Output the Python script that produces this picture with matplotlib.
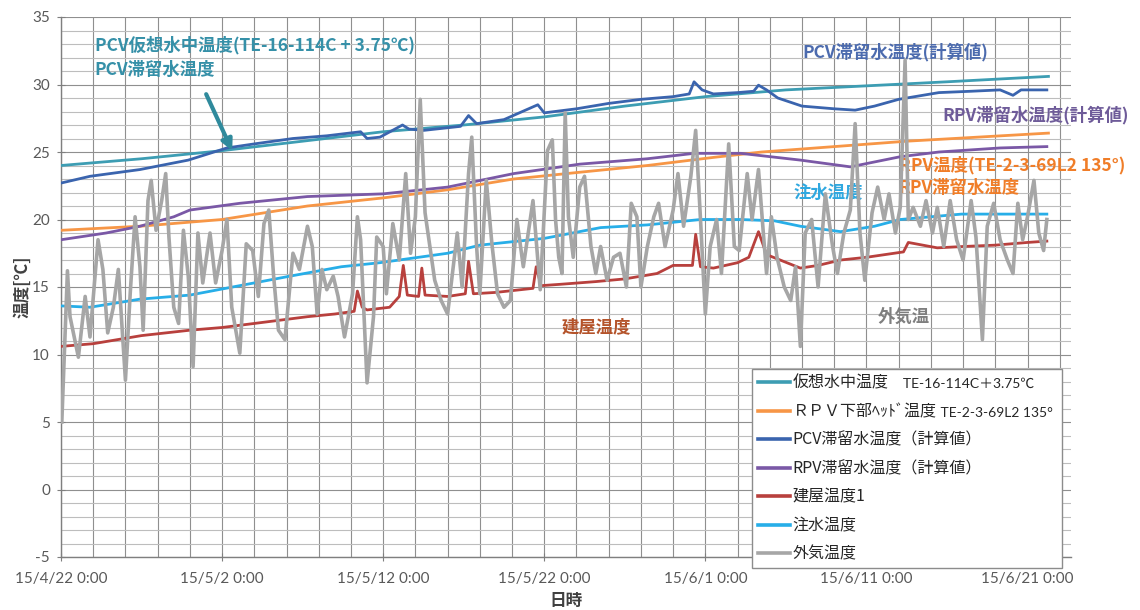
import datetime as dt

import matplotlib
matplotlib.use("Agg")
import matplotlib.pyplot as plt
import matplotlib.dates as mdates
import numpy as np
from matplotlib.ticker import FixedLocator, FuncFormatter, MultipleLocator
from matplotlib.transforms import IdentityTransform

plt.rcParams['font.family'] = ['Noto Sans CJK JP', 'DejaVu Sans']
plt.rcParams['axes.unicode_minus'] = False

START = dt.datetime(2015, 4, 22)

# ---- series: day offset from 2015/4/22 0:00, temperature [°C] ----
virtual_day = [0, 5, 10, 15, 20, 25, 30, 35, 40, 45, 50, 55, 61.3]
virtual_temp = [24.0, 24.5, 25.1, 25.8, 26.5, 27.0, 27.6, 28.4, 29.1, 29.6, 29.9, 30.2, 30.6]

rpv_head_day = [0, 4.9, 10, 15.3, 20, 24, 28.1, 32.2, 36.4, 40.5, 43.5, 52.5, 61.3]
rpv_head_temp = [19.2, 19.5, 20.0, 21.0, 21.6, 22.2, 23.0, 23.5, 24.0, 24.6, 25.0, 25.8, 26.4]

pcv_calc_day = [0, 1.8, 4.9, 7.9, 10.3, 12, 14.4, 16.5, 18.6, 19.0, 19.8, 21.2, 21.6,
                22.5, 24.8, 25.3, 25.8, 27.5, 29.6, 30.0, 32, 34, 36, 38, 39.0, 39.3,
                39.8, 40.5, 42, 43.0, 43.3, 43.8, 44.5, 46, 48, 49.3, 50.5, 52, 54.5,
                56.5, 58.3, 59.1, 59.6, 61.2]
pcv_calc_temp = [22.7, 23.2, 23.7, 24.4, 25.3, 25.6, 26.0, 26.2, 26.5, 26.0, 26.1, 27.0, 26.7,
                 26.6, 26.9, 27.7, 27.1, 27.4, 28.5, 27.9, 28.2, 28.6, 28.9, 29.1, 29.3, 30.2,
                 29.6, 29.3, 29.4, 29.5, 29.95, 29.6, 29.0, 28.4, 28.2, 28.1, 28.4, 28.9, 29.4,
                 29.5, 29.6, 29.2, 29.6, 29.6]

rpv_calc_day = [0, 2.8, 4.9, 7.0, 8.0, 11.1, 15.3, 20.0, 24.0, 28.1, 32.2, 36.4, 39.3,
                42.2, 45.9, 49.0, 52.1, 54.5, 58.3, 61.2]
rpv_calc_temp = [18.5, 19.0, 19.5, 20.2, 20.7, 21.2, 21.7, 21.9, 22.4, 23.4, 24.1, 24.5, 24.9,
                 24.9, 24.4, 23.9, 24.65, 25.0, 25.3, 25.4]

building_day = [0, 2, 5, 8, 10, 12, 15.3, 17, 18.2, 18.4, 18.7, 19.0, 20.4, 21.0, 21.25,
                21.5, 22.2, 22.4, 22.6, 24.0, 25.1, 25.3, 25.6, 27, 29.3, 29.5, 29.8, 31,
                33.2, 35, 37, 38, 39.2, 39.4, 39.7, 40.5, 42, 42.7, 43.3, 43.8, 45.9, 47,
                48.4, 50, 52.3, 52.6, 54.4, 56, 58, 60, 61.2]
building_temp = [10.6, 10.8, 11.4, 11.8, 12.0, 12.3, 12.8, 13.0, 13.2, 14.7, 13.5, 13.3, 13.5,
                 14.3, 16.6, 14.4, 14.3, 16.4, 14.4, 14.3, 14.5, 16.9, 14.5, 14.6, 14.9, 16.5,
                 15.1, 15.2, 15.4, 15.6, 16.0, 16.6, 16.6, 18.9, 16.5, 16.4, 16.8, 17.2, 19.1,
                 17.4, 16.4, 16.6, 17.0, 17.2, 17.6, 18.3, 17.9, 18.0, 18.1, 18.3, 18.4]

injection_day = [0, 1.8, 4.9, 8.0, 11.1, 14.2, 17.4, 19.8, 24.0, 26.0, 30.0, 33.5, 36.4,
                 39.7, 42.2, 44.3, 45.9, 48.4, 50.5, 52.1, 55.9, 61.2]
injection_temp = [13.6, 13.5, 14.1, 14.4, 15.1, 15.8, 16.5, 16.8, 17.5, 18.1, 18.6, 19.4, 19.6,
                  20.0, 20.0, 19.9, 19.5, 19.1, 19.5, 20.0, 20.4, 20.4]

outdoor_day = [0.05, 0.4, 0.56, 1.08, 1.5, 1.8, 2.3, 2.6, 2.9, 3.25, 3.56, 4.0, 4.3, 4.6,
               4.9, 5.1, 5.4, 5.6, 5.9, 6.25, 6.5, 6.7, 7.0, 7.3, 7.6, 7.9, 8.2, 8.5, 8.8,
               9.25, 9.6, 10.0, 10.3, 10.6, 11.1, 11.5, 11.9, 12.25, 12.6, 12.9, 13.2, 13.5,
               13.9, 14.4, 14.8, 15.3, 15.6, 15.9, 16.2, 16.5, 16.9, 17.2, 17.6, 18.1, 18.4,
               18.6, 19.0, 19.4, 19.6, 20.0, 20.2, 20.6, 21.0, 21.4, 21.7, 22.0, 22.3, 22.6,
               22.9, 23.2, 23.6, 24.0, 24.3, 24.6, 24.9, 25.3, 25.5, 25.8, 26.0, 26.4, 26.75,
               27.1, 27.5, 27.9, 28.3, 28.7, 29.3, 29.75, 30.2, 30.5, 30.7, 30.9, 31.1, 31.3,
               31.5, 31.8, 32.2, 32.5, 32.9, 33.2, 33.5, 33.9, 34.3, 34.7, 35.1, 35.4, 35.75,
               36.0, 36.4, 36.8, 37.1, 37.5, 38.0, 38.3, 38.65, 39.1, 39.4, 39.7, 40.0, 40.3,
               40.7, 41.0, 41.45, 41.8, 42.1, 42.6, 42.9, 43.3, 43.6, 43.8, 44.1, 44.45, 44.9,
               45.3, 45.6, 45.9, 46.2, 46.6, 47.0, 47.45, 47.9, 48.2, 48.6, 49.0, 49.3, 49.6,
               49.9, 50.35, 50.7, 51.1, 51.4, 51.8, 52.1, 52.4, 52.6, 52.9, 53.35, 53.7, 54.1,
               54.4, 54.8, 55.2, 55.6, 56.0, 56.5, 56.8, 57.2, 57.5, 57.9, 58.3, 58.75, 59.1,
               59.4, 59.7, 60.0, 60.4, 60.7, 61.0, 61.2]
outdoor_temp = [5.0, 16.2, 12.8, 9.8, 14.3, 11.3, 18.5, 16.3, 11.6, 13.5, 16.3, 8.1, 14.6, 20.2,
                16.5, 11.8, 21.4, 22.9, 19.2, 21.4, 23.4, 18.7, 13.5, 12.3, 19.2, 15.8, 9.1, 19.0,
                15.3, 19.0, 15.3, 17.7, 20.0, 13.5, 10.1, 18.2, 17.7, 14.3, 19.7, 20.7, 15.8, 11.8,
                11.1, 17.5, 16.3, 19.5, 18.0, 13.0, 16.3, 14.8, 15.8, 14.3, 11.3, 14.5, 20.2,
                18.5, 7.9, 12.8, 18.7, 18.0, 14.5, 19.7, 17.0, 23.4, 17.5, 20.2, 28.9, 20.5,
                18.0, 15.5, 14.0, 13.0, 16.0, 19.0, 15.0, 23.4, 26.1, 18.0, 14.5, 22.9, 18.2,
                14.5, 13.5, 14.0, 20.0, 16.5, 21.4, 14.8, 25.1, 25.9, 20.0, 17.2, 16.0, 27.9,
                20.2, 17.2, 22.4, 23.2, 18.0, 16.0, 18.0, 15.5, 17.2, 17.5, 15.0, 21.2, 20.2,
                15.0, 18.0, 20.2, 21.2, 18.0, 20.7, 23.4, 19.5, 23.2, 26.6, 20.0, 13.0, 18.0,
                20.0, 16.0, 25.6, 18.0, 17.7, 23.4, 20.0, 23.7, 19.0, 16.0, 20.2, 17.2, 15.0,
                14.0, 16.5, 10.6, 19.0, 20.0, 15.0, 21.9, 18.0, 16.0, 19.0, 20.7, 27.1, 19.0,
                15.5, 20.5, 22.4, 20.0, 21.9, 19.0, 20.9, 31.8, 20.0, 20.9, 19.5, 21.4, 19.0,
                20.9, 18.0, 21.4, 18.5, 17.0, 21.4, 18.7, 11.1, 19.5, 21.2, 18.5, 17.0, 16.0,
                21.2, 18.5, 20.2, 22.9, 19.0, 17.7, 20.0]

# legend entries: main label and the smaller sensor-id suffix
legend_main = ["仮想水中温度", "ＲＰＶ下部ﾍｯﾄﾞ温度", "PCV滞留水温度（計算値）",
               "RPV滞留水温度（計算値）", "建屋温度1", "注水温度", "外気温度"]
legend_suffix = ["　TE-16-114C＋3.75℃", " TE-2-3-69L2 135°", "", "", "", "", ""]

series = [
    (virtual_day, virtual_temp, "#3D9DB3", 2.0),
    (rpv_head_day, rpv_head_temp, "#F79646", 2.0),
    (pcv_calc_day, pcv_calc_temp, "#3A64AE", 2.0),
    (rpv_calc_day, rpv_calc_temp, "#7A58A6", 2.0),
    (building_day, building_temp, "#B8403D", 2.0),
    (injection_day, injection_temp, "#27AEE8", 2.0),
    (outdoor_day, outdoor_temp, "#A6A6A6", 2.6),
]

base = mdates.date2num(START)


def to_x(days):
    return base + np.asarray(days, dtype=float)


fig = plt.figure(figsize=(11.4, 6.1), dpi=100)
ax = fig.add_axes([61 / 1140, 1 - 557 / 610, (1071 - 61) / 1140, (557 - 17) / 610])

handles = []
for i, (d, t, c, lw) in enumerate(series):
    h, = ax.plot(to_x(d), t, color=c, lw=lw, solid_joinstyle='round', zorder=3 + i * 0.1)
    handles.append(h)

ax.set_xlim(base, base + 62.7)
ax.set_ylim(-5, 35)

# ticks every 10 days from the start date, grid every 2 days
ax.xaxis.set_major_locator(FixedLocator(to_x(np.arange(0, 61, 10))))
ax.xaxis.set_minor_locator(FixedLocator(to_x(np.arange(0, 63, 2))))
ax.yaxis.set_major_locator(MultipleLocator(5))
ax.yaxis.set_minor_locator(MultipleLocator(1))


def date_label(x, pos):
    d = mdates.num2date(x)
    return f"{d.year % 100}/{d.month}/{d.day} {d.hour}:{d.minute:02d}"


ax.xaxis.set_major_formatter(FuncFormatter(date_label))

ax.xaxis.grid(True, which='both', color='#8f8f8f', lw=0.8)
ax.yaxis.grid(True, which='major', color='#8f8f8f', lw=0.8)
ax.yaxis.grid(True, which='minor', color='#bdbdbd', lw=0.8)
ax.set_axisbelow(True)

for s in ('top', 'right'):
    ax.spines[s].set_visible(False)
for s in ('left', 'bottom'):
    ax.spines[s].set_color('#7f7f7f')
    ax.spines[s].set_linewidth(1.0)

ax.tick_params(which='major', direction='inout', length=6, color='#7f7f7f',
               labelcolor='#595959', labelsize=11)
ax.tick_params(which='minor', length=0)
ax.tick_params(axis='x', pad=8)
ax.tick_params(axis='y', pad=5)
for lab in ax.get_xticklabels() + ax.get_yticklabels():
    lab.set_family(['Lato', 'DejaVu Sans'])

ax.set_ylabel("温度[℃]", fontsize=12, color='#404040', fontweight='bold')
ax.yaxis.set_label_coords(-0.0297, 0.5)
ax.set_xlabel("日時", fontsize=12, color='#404040', fontweight='bold', labelpad=4)

# in-plot annotations
ann_kw = dict(fontsize=12.5, fontweight='bold', va='center', ha='left', clip_on=False, zorder=2)
ax.text(base + 2.1, 32.9, "PCV仮想水中温度(TE-16-114C + 3.75℃)", color='#3590A8', **ann_kw)
ax.text(base + 2.1, 31.1, "PCV滞留水温度", color='#3590A8', **ann_kw)
ax.annotate('', xy=(base + 10.7, 24.9), xytext=(base + 8.94, 29.47),
            arrowprops=dict(arrowstyle='-|>', color='#2F8A9C', lw=3, mutation_scale=16),
            zorder=4)
ax.text(base + 46.0, 32.4, "PCV滞留水温度(計算値)", color='#4C6BAE', **ann_kw)
ax.text(base + 54.7, 27.7, "RPV滞留水温度(計算値)", color='#6E5B99', **ann_kw)
ax.text(base + 52.0, 24.0, "RPV温度(TE-2-3-69L2 135°)", color='#F07D28', **ann_kw)
ax.text(base + 52.0, 22.3, "RPV滞留水温度", color='#F07D28', **ann_kw)
ax.text(base + 45.5, 22.0, "注水温度", color='#2FA8E0', **ann_kw)
ax.text(base + 31.1, 12.0, "建屋温度", color='#B4532A', **ann_kw)
ax.text(base + 50.7, 12.8, "外気温", color='#7F7F7F', **ann_kw)

# legend box spanning a fixed width in the lower right
leg_box = (752 / 1140, 1 - 565 / 610, (1062 - 752) / 1140, (565 - 369) / 610)
leg = ax.legend(handles, legend_main, loc='upper left', bbox_to_anchor=leg_box,
                bbox_transform=fig.transFigure, mode='expand', borderaxespad=0,
                fontsize=11.5, handlelength=2.0, handletextpad=0.2, borderpad=0.35,
                labelspacing=0.72, fancybox=False, framealpha=1, edgecolor='#8c8c8c')
leg.get_frame().set_linewidth(1.0)
for lh in leg.get_lines():
    lh.set_linewidth(2.6)
for t in leg.get_texts():
    t.set_color('#262626')

fig.canvas.draw()
renderer = fig.canvas.get_renderer()
for txt, suffix in zip(leg.get_texts(), legend_suffix):
    if not suffix:
        continue
    bb = txt.get_window_extent(renderer)
    fig.text(bb.x1, (bb.y0 + bb.y1) / 2 - 1, suffix, transform=IdentityTransform(),
             fontsize=10, color='#262626', va='center', ha='left',
             family=['Lato', 'Noto Sans CJK JP'], zorder=10)

fig.savefig("out.png", dpi=100)
